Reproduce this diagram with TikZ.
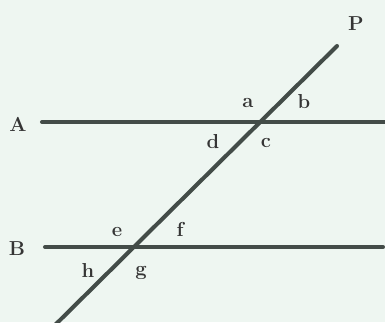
\documentclass[tikz,border=0pt]{standalone}
\usepackage{tikz}
\usetikzlibrary{calc}
\definecolor{LineGrey}{HTML}{434C48}
\definecolor{TextGrey}{HTML}{353535}
\definecolor{PaperMint}{HTML}{EEF6F1}

\begin{document}
\begin{tikzpicture}[x=0.02cm, y=-0.02cm, every node/.style={font=\fontsize{11.5}{13}\selectfont\bfseries, text=TextGrey, inner sep=0pt}]
    \clip (0,0) rectangle (385,322);
    \fill[PaperMint] (0,0) rectangle (385,322);

    \coordinate (aL) at (42,122);
    \coordinate (aR) at (392,122);
    \coordinate (bL) at (45,247);
    \coordinate (bR) at (383,247);
    \coordinate (pTop) at (337,46);
    \coordinate (pBot) at (50,330);

    \draw[LineGrey, line width=2.3pt, line cap=round] (aL) -- (aR);
    \draw[LineGrey, line width=2.3pt, line cap=round] (bL) -- (bR);
    \draw[LineGrey, line width=2.3pt, line cap=round] (pTop) -- (pBot);

    \node (labA) at (18,124) {A};
    \node (labB) at (17,249) {B};
    \node (labP) at (356,24) {P};

    \node (angA) at (248,103) {a};
    \node (angB) at (304,102) {b};
    \node (angC) at (266,143) {c};
    \node (angD) at (213,142) {d};
    \node (angE) at (117,232) {e};
    \node (angF) at (180,229) {f};
    \node (angG) at (141,273) {g};
    \node (angH) at (88,270) {h};
\end{tikzpicture}
\end{document}
